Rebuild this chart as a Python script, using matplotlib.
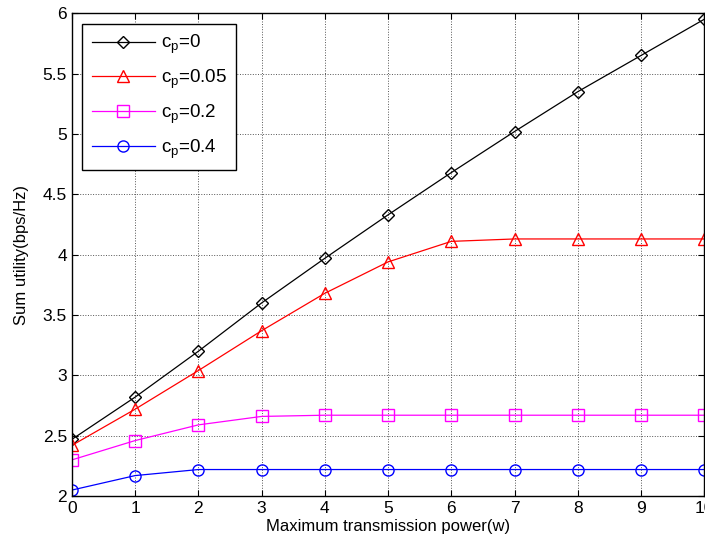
import matplotlib
matplotlib.use("Agg")
import matplotlib.pyplot as plt
import numpy as np

plt.rcParams['font.family'] = ['Liberation Sans', 'DejaVu Sans']
plt.rcParams['mathtext.fontset'] = 'custom'
plt.rcParams['mathtext.rm'] = 'Liberation Sans'
plt.rcParams['mathtext.it'] = 'Liberation Sans:italic'

power = np.arange(0, 11)
cp0 = [2.47, 2.82, 3.20, 3.60, 3.97, 4.33, 4.68, 5.02, 5.35, 5.65, 5.95]
cp005 = [2.42, 2.72, 3.04, 3.37, 3.68, 3.94, 4.11, 4.13, 4.13, 4.13, 4.13]
cp02 = [2.30, 2.46, 2.59, 2.66, 2.67, 2.67, 2.67, 2.67, 2.67, 2.67, 2.67]
cp04 = [2.05, 2.17, 2.22, 2.22, 2.22, 2.22, 2.22, 2.22, 2.22, 2.22, 2.22]

labels = [r'c$_\mathrm{p}$=0', r'c$_\mathrm{p}$=0.05', r'c$_\mathrm{p}$=0.2', r'c$_\mathrm{p}$=0.4']

fig = plt.figure(figsize=(7.05, 5.5), dpi=100)
ax = fig.add_axes([0.102, 0.098, 0.897, 0.878])

ms = 8
ax.plot(power, cp0, color='black', marker='D', markersize=ms-1.5, mfc='none', lw=0.9, label=labels[0])
ax.plot(power, cp005, color='red', marker='^', markersize=ms+1, mfc='none', lw=0.9, label=labels[1])
ax.plot(power, cp02, color='magenta', marker='s', markersize=ms, mfc='none', lw=0.9, label=labels[2])
ax.plot(power, cp04, color='blue', marker='o', markersize=ms, mfc='none', lw=0.9, label=labels[3])

ax.set_xlim(0, 10)
ax.set_ylim(2, 6)
ax.set_xticks(np.arange(0, 11))
ax.set_yticks(np.arange(2, 6.01, 0.5))
ax.set_yticklabels(['2', '2.5', '3', '3.5', '4', '4.5', '5', '5.5', '6'])
ax.grid(True, linestyle=':', color='#555555', linewidth=0.7)
ax.tick_params(direction='in', top=True, right=True, labelsize=12.5, length=4)
for s in ax.spines.values():
    s.set_linewidth(1.0)

ax.set_xlabel('Maximum transmission power(w)', fontsize=12, labelpad=2)
ax.set_ylabel('Sum utility(bps/Hz)', fontsize=12, labelpad=10)

leg = ax.legend(loc='upper left', fontsize=13.5, handlelength=3.4, handletextpad=0.3,
                fancybox=False, framealpha=1, edgecolor='black', borderaxespad=0.55,
                labelspacing=0.62, borderpad=0.5)
leg.get_frame().set_linewidth(1.0)

fig.savefig('out.png', dpi=100)
